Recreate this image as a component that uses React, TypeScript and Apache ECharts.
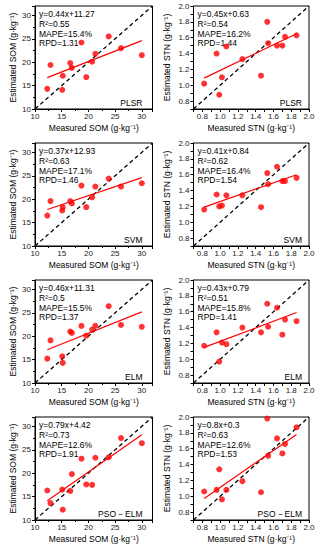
import React, { useEffect, useRef } from "react";
import * as echarts from "echarts";

// ---- data ----
const somMeasured = [12.3, 12.9, 15.1, 15.2, 16.6, 16.9, 18.7, 19.6, 20.7, 21.3, 23.8, 26.1, 30.0];
const somPLSR = [14.3, 19.4, 14.1, 17.1, 19.8, 18.8, 24.2, 16.8, 20.1, 21.8, 25.5, 23.0, 21.5];
const somSVM = [16.5, 19.6, 17.6, 18.3, 19.6, 19.1, 22.9, 18.3, 20.4, 22.7, 24.4, 22.7, 23.4];
const somELM = [15.2, 19.1, 15.7, 14.3, 21.0, 20.7, 22.2, 20.1, 21.4, 22.2, 26.4, 22.4, 22.0];
const somPSO = [16.3, 13.6, 16.5, 12.2, 16.2, 19.8, 23.1, 17.6, 17.5, 23.3, 23.4, 27.5, 26.4];

const stnMeasured = [0.82, 0.96, 0.99, 1.02, 1.07, 1.25, 1.46, 1.53, 1.54, 1.64, 1.70, 1.73, 1.86];
const stnPLSR = [1.02, 1.40, 0.88, 1.10, 1.49, 1.33, 1.12, 1.80, 1.53, 1.50, 1.50, 1.61, 1.63];
const stnSVM = [1.16, 1.35, 1.20, 1.21, 1.34, 1.34, 1.19, 1.62, 1.48, 1.70, 1.52, 1.52, 1.56];
const stnELM = [1.17, 1.34, 0.97, 1.21, 1.19, 1.40, 1.34, 1.70, 1.41, 1.65, 1.31, 1.50, 1.48];
const stnPSO = [1.06, 1.08, 1.34, 0.96, 1.08, 1.19, 1.05, 1.98, 1.51, 1.73, 1.54, 1.66, 1.87];

// regression line end values (at min and max measured)
const somFitEnds = [[16.7, 24.6], [17.8, 24.6], [17.1, 25.2], [14.1, 28.2]];
const stnFitEnds = [[1.09, 1.65], [1.19, 1.6], [1.15, 1.59], [0.97, 1.78]];

const models = ["PLSR", "SVM", "ELM", "PSO－ELM"];
const somStats = [
  ["y=0.44x+11.27", "R²=0.55", "MAPE=15.4%", "RPD=1.31"],
  ["y=0.37x+12.93", "R²=0.63", "MAPE=17.1%", "RPD=1.46"],
  ["y=0.46x+11.31", "R²=0.5", "MAPE=15.5%", "RPD=1.37"],
  ["y=0.79x+4.42", "R²=0.73", "MAPE=12.6%", "RPD=1.91"],
];
const stnStats = [
  ["y=0.45x+0.63", "R²=0.54", "MAPE=16.2%", "RPD=1.44"],
  ["y=0.41x+0.84", "R²=0.62", "MAPE=16.4%", "RPD=1.54"],
  ["y=0.43x+0.79", "R²=0.51", "MAPE=15.8%", "RPD=1.41"],
  ["y=0.8x+0.3", "R²=0.63", "MAPE=12.6%", "RPD=1.53"],
];

const somRange = [10, 32];
const stnRange = [0.7, 2.0];

const FONT = "'Liberation Sans', Arial, sans-serif";

export default function App() {
  const ref = useRef<HTMLDivElement>(null);
  useEffect(() => {
    if (!ref.current) return;
    const chart = echarts.init(ref.current, undefined, { renderer: "svg" });
    const colLeft = [35, 193.5];
    const colWidth = [117.5, 115.5];
    const rowTop = [6, 143, 280, 417];
    const rowH = 103;

    const grids: any[] = [];
    const xAxes: any[] = [];
    const yAxes: any[] = [];
    const series: any[] = [];
    const graphics: any[] = [];

    const somEst = [somPLSR, somSVM, somELM, somPSO];
    const stnEst = [stnPLSR, stnSVM, stnELM, stnPSO];

    for (let r = 0; r < 4; r++) {
      for (let c = 0; c < 2; c++) {
        const idx = grids.length;
        const left = colLeft[c];
        const top = rowTop[r];
        const w = colWidth[c];
        const isSom = c === 0;
        const range = isSom ? somRange : stnRange;
        const meas = isSom ? somMeasured : stnMeasured;
        const est = isSom ? somEst[r] : stnEst[r];
        const fit = isSom ? somFitEnds[r] : stnFitEnds[r];
        const stats = isSom ? somStats[r] : stnStats[r];
        const v = isSom ? "SOM" : "STN";
        grids.push({
          left,
          top,
          width: w,
          height: rowH,
          show: true,
          borderColor: "#000",
          borderWidth: 1,
          backgroundColor: "transparent",
        });
        const labelFmt = isSom
          ? (val: number) => (Math.round(val) % 5 === 0 ? String(Math.round(val)) : "")
          : (val: number) => {
              const k = Math.round(val * 10);
              return k % 2 === 0 ? (k / 10).toFixed(1) : "";
            };
        const common = {
          type: "value",
          min: range[0],
          max: range[1],
          interval: isSom ? 5 : 0.1,
          gridIndex: idx,
          nameLocation: "middle",
          nameTextStyle: { fontSize: 8.5, color: "#000", fontFamily: FONT },
          axisLine: { show: true, onZero: false, lineStyle: { color: "#000", width: 1 } },
          axisTick: { show: true, inside: false, length: 3, lineStyle: { color: "#000" } },
          minorTick: isSom ? { show: true, splitNumber: 2, length: 2, lineStyle: { color: "#000" } } : { show: false },
          splitLine: { show: false },
          axisLabel: {
            fontSize: 8,
            color: "#222",
            fontFamily: FONT,
            margin: 3,
            formatter: labelFmt,
            showMaxLabel: true,
          },
        };
        xAxes.push({ ...common, name: `Measured ${v} (g·kg⁻¹)`, nameGap: 14 });
        yAxes.push({
          ...common,
          name: `Estimated ${v} (g·kg⁻¹)`,
          nameGap: isSom ? 18 : 22,
          axisLabel: { ...common.axisLabel, margin: 4 },
        });
        // 1:1 line
        series.push({
          type: "line",
          xAxisIndex: idx,
          yAxisIndex: idx,
          data: [[range[0], range[0]], [range[1], range[1]]],
          showSymbol: false,
          silent: true,
          lineStyle: { color: "#000", width: 1.3, type: [4, 3] },
          z: 1,
        });
        // regression line
        series.push({
          type: "line",
          xAxisIndex: idx,
          yAxisIndex: idx,
          data: [[Math.min(...meas), fit[0]], [Math.max(...meas), fit[1]]],
          showSymbol: false,
          silent: true,
          lineStyle: { color: "#ff0000", width: 1.2 },
          z: 2,
        });
        // points
        series.push({
          type: "scatter",
          xAxisIndex: idx,
          yAxisIndex: idx,
          data: meas.map((m, i) => [m, est[i]]),
          symbol: "circle",
          symbolSize: 6,
          itemStyle: { color: "#ff0000" },
          z: 3,
        });
        // annotation
        stats.forEach((s, i) => {
          graphics.push({
            type: "text",
            x: left + 4,
            y: top + 8 + i * 9.8,
            style: {
              text: s,
              fontSize: 8.5,
              fontFamily: FONT,
              fill: "#000",
              verticalAlign: "middle",
              textAlign: "left",
            },
          });
        });
        graphics.push({
          type: "text",
          x: left + w - (isSom ? 10 : 7),
          y: top + rowH - 6,
          style: {
            text: models[r],
            fontSize: 8.5,
            fontFamily: FONT,
            fill: "#000",
            verticalAlign: "middle",
            textAlign: "right",
          },
        });
      }
    }

    chart.setOption({
      animation: false,
      backgroundColor: "#fff",
      grid: grids,
      xAxis: xAxes,
      yAxis: yAxes,
      series,
      graphic: graphics,
    });
    return () => chart.dispose();
  }, []);
  return (
    <div
      ref={ref}
      style={{ position: "absolute", left: 0, top: 0, width: 320, height: 550 }}
    />
  );
}
